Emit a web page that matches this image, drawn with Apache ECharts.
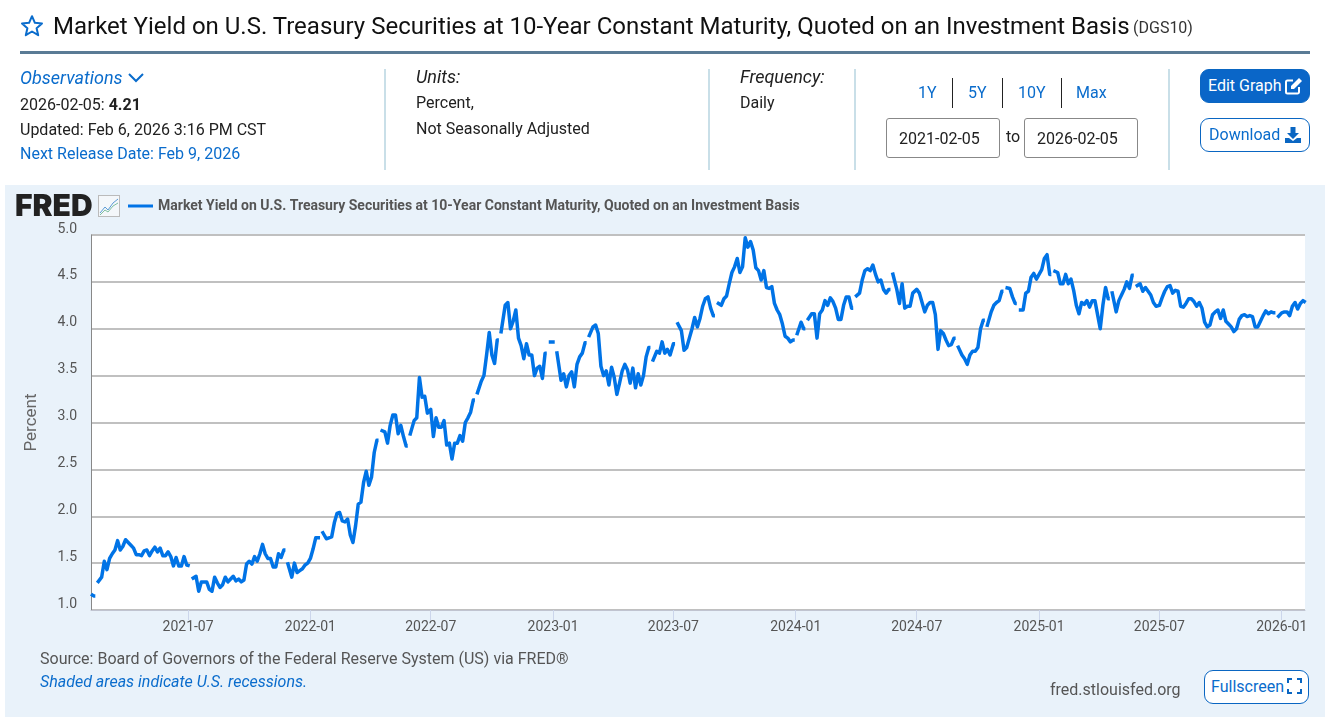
<!DOCTYPE html>
<html><head><meta charset="utf-8">
<script src="https://cdn.jsdelivr.net/npm/echarts@6/dist/echarts.min.js"></script>
<style>
html,body{margin:0;padding:0;background:#fff;width:1332px;height:720px;overflow:hidden;font-family:Roboto,sans-serif;color:#212121}
.t{position:absolute;white-space:nowrap;line-height:20px;font-size:16px}
.b{color:#0a6ccc}.i{font-style:italic}
.d{position:absolute;width:2px;top:69px;height:101px;background:#c9dfe8}
.s{position:absolute;width:1px;top:78px;height:30px;background:#222}
.box{position:absolute;box-sizing:border-box;border:1px solid #888;border-radius:3px;top:118px;height:40px;width:114px;background:#fff;padding-left:12px;line-height:39px;font-size:16px}
.btn{position:absolute;box-sizing:border-box;border:1px solid #0a66c2;border-radius:9px;left:1200px;width:110px;height:34px;background:#fff}
svg{position:absolute}
#panel{position:absolute;left:5px;top:185px;width:1320px;height:532px;background:#e9f2fa}
#chart{position:absolute;left:0;top:0;width:1332px;height:720px}
</style></head><body>
<div id="panel"></div>
<div id="chart"></div>

<svg style="left:20px;top:14px" width="24" height="24" viewBox="0 0 24 24"><path d="M12 2.2l2.9 6.6 7.1.7-5.4 4.7 1.6 7-6.2-3.7-6.2 3.7 1.6-7L2 9.5l7.1-.7z" fill="none" stroke="#0a6ccc" stroke-width="2" stroke-linejoin="round"/></svg>
<div class="t" style="left:53px;top:13px;line-height:26px;font-size:24px;color:#111">Market Yield on U.S. Treasury Securities at 10-Year Constant Maturity, Quoted on an Investment Basis</div>
<div class="t" style="left:1133px;top:18px;font-size:16px;color:#333">(DGS10)</div>
<div style="position:absolute;left:20px;top:51px;width:1290px;height:3px;background:#5a7b95"></div>

<div class="t b i" style="left:20px;top:68px;font-size:18px">Observations</div>
<svg style="left:127px;top:72px" width="18" height="12" viewBox="0 0 18 12"><path d="M2 2l7 7 7-7" fill="none" stroke="#0a6ccc" stroke-width="2"/></svg>
<div class="t" style="left:20px;top:95px">2026-02-05: <b>4.21</b></div>
<div class="t" style="left:20px;top:120px">Updated: Feb 6, 2026 3:16 PM CST</div>
<div class="t b" style="left:20px;top:144px">Next Release Date: Feb 9, 2026</div>
<div class="d" style="left:384px"></div>
<div class="t i" style="left:416px;top:67px;font-size:18px">Units:</div>
<div class="t" style="left:416px;top:93px">Percent,</div>
<div class="t" style="left:416px;top:119px">Not Seasonally Adjusted</div>
<div class="d" style="left:708px"></div>
<div class="t i" style="left:740px;top:67px;font-size:18px">Frequency:</div>
<div class="t" style="left:740px;top:93px">Daily</div>
<div class="d" style="left:854px"></div>
<div class="t b" style="left:918px;top:83px">1Y</div>
<div class="s" style="left:952px"></div>
<div class="t b" style="left:968px;top:83px">5Y</div>
<div class="s" style="left:1002px"></div>
<div class="t b" style="left:1018px;top:83px">10Y</div>
<div class="s" style="left:1061px"></div>
<div class="t b" style="left:1076px;top:83px">Max</div>
<div class="box" style="left:886px">2021-02-05</div>
<div class="t" style="left:1006px;top:127px">to</div>
<div class="box" style="left:1024px">2026-02-05</div>
<div class="d" style="left:1168px"></div>
<div class="btn" style="top:69px;background:#0a66c8"></div>
<div class="t" style="left:1208px;top:76px;color:#fff">Edit Graph</div>
<svg style="left:1285px;top:77px" width="18" height="18" viewBox="0 0 18 18"><path d="M14 10v5a1.5 1.5 0 0 1-1.5 1.5h-10A1.5 1.5 0 0 1 1 15V5a1.5 1.5 0 0 1 1.5-1.5H8" fill="none" stroke="#fff" stroke-width="2"/><path d="M6 9l8-8 3 3-8 8H6z" fill="#fff"/></svg>
<div class="btn" style="top:118px"></div>
<div class="t b" style="left:1209px;top:125px">Download</div>
<svg style="left:1284px;top:126px" width="18" height="18" viewBox="0 0 18 18"><path d="M6.5 1h5v6h3.5L9 13 3 7h3.5z" fill="#0a66c2"/><path d="M1 12h4l4 3 4-3h4v5H1z" fill="#0a66c2"/></svg>

<div style="position:absolute;left:15px;top:190px;font:900 30px/30px 'Inter','Liberation Sans',sans-serif;letter-spacing:0px;color:#222">FRED</div>
<svg style="left:98px;top:195px" width="22" height="22" viewBox="0 0 22 22"><rect x=".5" y=".5" width="21" height="21" fill="#f4f7fa" stroke="#bbb"/><path d="M2 18l5-6 3 3 5-7 5-4" fill="none" stroke="#5b9bd5" stroke-width="1"/><path d="M2 20l5-5 3 2 5-6 5-3" fill="none" stroke="#7fbf9f" stroke-width="1"/></svg>

<div class="t" style="left:40px;top:649px;color:#555">Source: Board of Governors of the Federal Reserve System (US) via FRED®</div>
<div class="t b i" style="left:40px;top:672px">Shaded areas indicate U.S. recessions.</div>
<div class="t" style="left:1050px;top:680px;color:#555">fred.stlouisfed.org</div>
<div class="btn" style="left:1204px;top:670px;width:105px;height:34px"></div>
<div class="t b" style="left:1211px;top:677px">Fullscreen</div>
<svg style="left:1287px;top:678px" width="15" height="16" viewBox="0 0 15 16"><path d="M1 5V1h4M10 1h4v4M14 11v4h-4M5 15H1v-4" fill="none" stroke="#0a66c2" stroke-width="2"/></svg>

<script>
const seriesName = 'Market Yield on U.S. Treasury Securities at 10-Year Constant Maturity, Quoted on an Investment Basis';
const yTicks = [1.0,1.5,2.0,2.5,3.0,3.5,4.0,4.5,5.0];
const xTickLabels = ['2021-07','2022-01','2022-07','2023-01','2023-07','2024-01','2024-07','2025-01','2025-07','2026-01'];
const firstDate = '2021-02-05';
const lastDate = '2026-02-05';
const stepDays = 4;
// Yield, one reading every stepDays from each block's first day; null = break in the line
const h2021a = [1.17,1.15,null,1.29,1.35,1.52,1.43,1.55,1.60,1.64,1.74,1.64,1.68,1.75,1.72,1.69,1.66,1.59,1.59,1.58,1.63,1.64,1.58,1.63,1.67,1.62,1.66,1.58,1.58,1.62,1.57,1.47,1.56,1.47,1.47,1.57,1.48];
const h2021b = [1.47,null,1.33,1.36,1.20,1.30,1.30,1.30,1.22,1.20,1.35,1.29,1.24,1.27,1.35,1.30,1.33,1.36,1.31,1.33,1.30,1.32,1.49,1.52,1.49,1.57,1.52,1.60,1.70,1.60,1.55,1.55,1.46,1.46,1.60,1.56,1.64,null,1.51,1.35,1.50,1.40,1.42,1.44,1.48,1.50];
const h2022a = [1.55,1.65,1.77,1.77,null,1.84,1.76,1.77,1.78,1.93,2.03,2.04,1.95,1.94,1.97,1.80,1.72,1.90,2.13,2.15,2.36,2.48,2.33,2.42,2.68,2.81,null,2.92,2.90,2.78,2.97,3.08,3.08,2.88,2.97,2.85,2.75,null,2.86,3.02,3.05,3.48,3.27,3.28,3.10];
const h2022b = [3.14,2.85,3.05,2.95,2.95,3.02,2.76,2.78,2.61,2.78,2.78,2.86,2.80,3.00,3.05,3.11,3.24,null,3.30,3.44,3.50,3.72,3.96,3.72,3.63,3.88,null,3.95,4.25,4.28,4.00,4.08,4.20,3.90,3.82,3.68,3.84,3.72,3.72,3.50,3.58,3.60,3.47,3.74,null,3.86];
const h2023a = [3.86,null,3.76,3.45,3.52,3.38,3.50,3.54,3.38,3.62,3.70,3.74,3.85,null,3.91,4.02,4.04,3.95,3.60,3.50,3.55,3.40,3.59,3.48,3.30,3.42,3.55,3.62,3.56,3.42,3.58,3.37,3.52,3.40,3.50,3.70,3.80,null,3.65,3.76,3.74,3.86,3.74,3.78,3.72];
const h2023b = [3.84,null,4.07,3.98,3.77,3.80,3.90,4.00,4.12,4.02,4.11,4.24,4.32,4.34,4.22,4.14,null,4.28,4.25,4.32,4.35,4.48,4.60,4.66,4.75,4.60,4.66,4.97,4.87,4.93,4.84,4.65,4.62,4.52,4.62,4.44,4.43,4.45,4.27,4.20,4.15,4.05,3.92,3.90,3.86,3.88];
const h2024a = [null,3.93,4.07,4.00,null,4.09,4.16,4.16,3.90,4.16,4.20,4.30,4.25,4.33,4.29,4.22,4.10,4.10,4.25,4.34,4.34,4.22,null,4.34,4.38,4.52,4.62,4.64,4.62,4.68,4.58,4.50,4.52,4.42,4.38,4.42,null,4.60,4.42,4.27,4.48,4.22,4.24,4.24,4.38];
const h2024b = [4.42,4.38,4.28,4.18,4.25,4.28,4.28,4.15,3.78,3.98,3.95,3.88,3.82,3.83,3.90,null,3.82,3.72,3.68,3.62,3.72,3.76,3.76,3.80,4.00,4.09,null,4.02,4.18,4.25,4.28,4.30,4.40,null,4.44,4.43,4.34,4.27,null,4.20,4.20,4.38,4.40,4.55,4.59,4.53];
const h2025a = [4.58,4.63,4.75,4.79,4.58,null,4.62,4.60,4.48,4.48,4.58,4.48,4.53,4.41,4.25,4.16,4.28,4.26,4.30,4.23,4.30,4.30,4.15,4.00,4.25,4.44,4.32,null,4.40,4.18,4.30,4.36,4.42,4.50,4.43,4.57,null,4.45,4.48,4.40,4.44,4.40,4.36,4.28,4.24];
const h2025b = [4.25,4.33,4.40,4.45,4.46,4.38,4.41,4.40,4.24,4.23,4.27,4.32,4.32,4.29,4.24,4.28,4.22,4.07,4.02,4.04,4.15,4.18,4.20,4.11,4.20,4.08,4.05,4.02,3.97,4.00,4.10,4.14,4.15,4.13,4.14,4.13,4.02,4.02,4.08,4.14,4.19,4.16,4.18,4.17,null,4.12];
const h2026a = [4.17,4.18,4.18,4.14,4.24,4.28,4.21,4.27,4.30,4.28];
const blockStarts = [firstDate,'2021-07-01','2022-01-01','2022-07-01','2023-01-01','2023-07-01','2024-01-01','2024-07-01','2025-01-01','2025-07-01','2026-01-01'];
const blocks = [h2021a,h2021b,h2022a,h2022b,h2023a,h2023b,h2024a,h2024b,h2025a,h2025b,h2026a];

const day = 86400000;
const raw = [];
blocks.forEach((vals,b)=>{
  const t0 = Date.parse(blockStarts[b]+'T00:00:00Z');
  vals.forEach((v,i)=>raw.push([t0+i*stepDays*day, v]));
});
// A break in the daily series spans one or two missing days, so the segments on
// either side carry their last reading up to the missing date.
const points = [];
raw.forEach((p,i)=>{
  if(p[1]===null && i>0 && i<raw.length-1){
    points.push([p[0]-1.5*day, raw[i-1][1]], [p[0],null], [p[0]+1.5*day, raw[i+1][1]]);
  } else points.push(p);
});
const xTicks = xTickLabels.map(s=>Date.parse(s+'-01T00:00:00Z'));
const labelGrey = '#555';

const chart = echarts.init(document.getElementById('chart'),null,{renderer:'canvas'});
chart.setOption({
  animation:false, backgroundColor:'transparent',
  legend:{left:128,top:199,padding:0,icon:'rect',itemWidth:25,itemHeight:3,itemGap:5,
    textStyle:{fontFamily:'Roboto',fontWeight:700,fontSize:14,color:'#555'},data:[seriesName]},
  grid:{left:91,right:27,top:235,bottom:110,show:true,backgroundColor:'#fff',borderWidth:0,containLabel:false},
  xAxis:{type:'value',min:Date.parse(firstDate+'T00:00:00Z'),max:Date.parse(lastDate+'T00:00:00Z'),scale:true,
    axisLine:{show:true,lineStyle:{color:'#c0c4d0',width:1}},
    axisTick:{show:true,length:10,lineStyle:{color:'#ccd6eb',width:1},customValues:xTicks},
    axisLabel:{customValues:xTicks,margin:10,fontFamily:'Roboto',fontSize:14,color:labelGrey,hideOverlap:false,
      formatter:v=>xTickLabels[xTicks.indexOf(v)]||''},
    splitLine:{show:false}},
  yAxis:{type:'value',min:yTicks[0],max:yTicks[yTicks.length-1],interval:0.5,
    name:'Percent',nameLocation:'middle',nameGap:51,nameRotate:90,
    nameTextStyle:{fontFamily:'Roboto',fontSize:17,color:'#666'},
    axisLine:{show:true,lineStyle:{color:'#888',width:1}},axisTick:{show:false},
    axisLabel:{margin:14,fontFamily:'Roboto',fontSize:14,lineHeight:12,color:labelGrey,verticalAlign:'bottom',
      formatter:v=>v.toFixed(1)},
    splitLine:{show:true,lineStyle:{color:'#c0c0c0',width:2}}},
  series:[{name:seriesName,type:'line',data:points,showSymbol:false,symbol:'none',connectNulls:false,
    clip:true,smooth:false,
    lineStyle:{color:'#0073e6',width:3.5,join:'round',cap:'butt'},itemStyle:{color:'#0073e6'}}]
});
</script>
</body></html>
